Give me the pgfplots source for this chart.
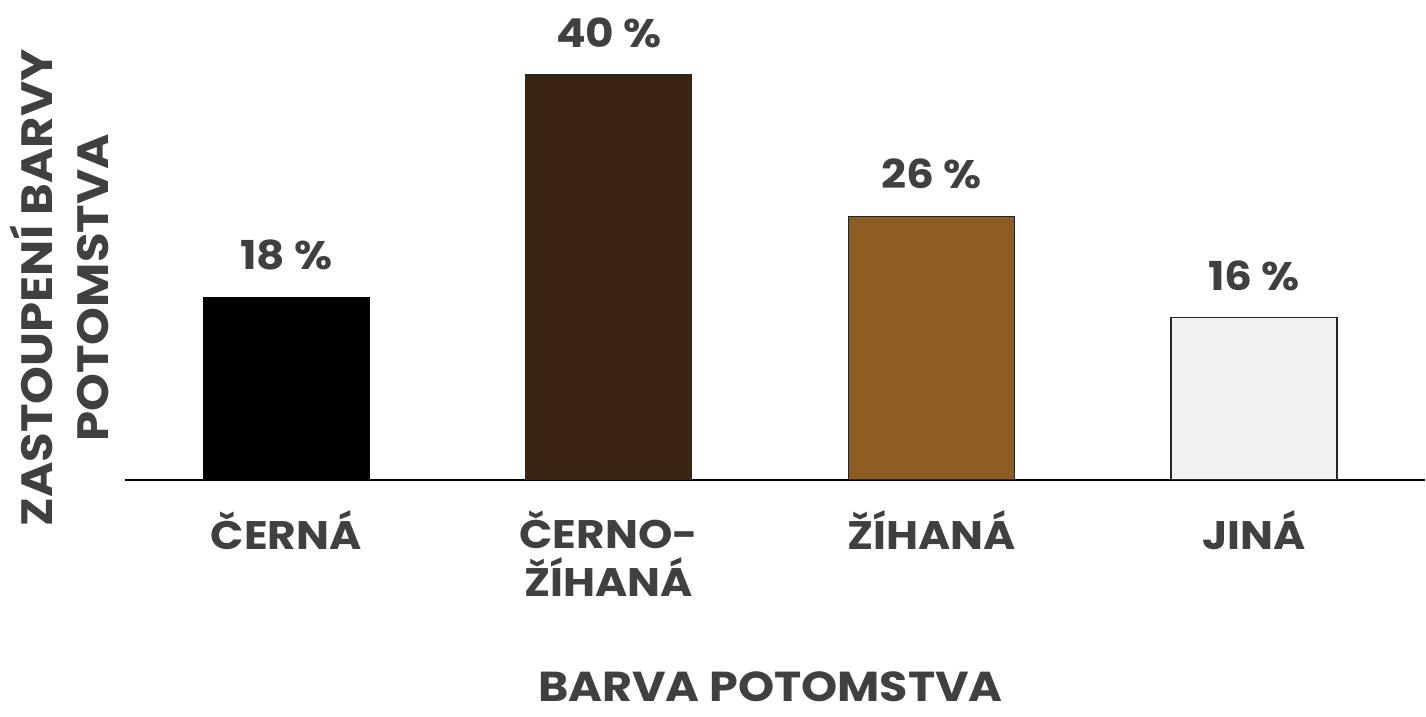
\documentclass[border=0pt]{standalone}
\usepackage{pgfplots}
\pgfplotsset{compat=1.18}
\usepackage{fontspec}
\setmainfont{Poppins}[FakeStretch=1.1]
\definecolor{txt}{HTML}{404040}
\definecolor{cblack}{HTML}{000000}
\definecolor{cdark}{HTML}{3A2510}
\definecolor{cbrown}{HTML}{8E5D22}
\definecolor{cgrey}{HTML}{F1F1F1}
\begin{document}
\begin{tikzpicture}
\begin{axis}[
  scale only axis,
  width=650.5bp, height=240bp,
  xmin=-0.5, xmax=3.53, ymin=0, ymax=47.4,
  axis x line=bottom, axis y line=left,
  x axis line style={-, line width=1bp, black},
  y axis line style={draw=none},
  xtick={0,1,2,3},
  xticklabels={ČERNÁ, ČERNO-\\ŽÍHANÁ, ŽÍHANÁ, JINÁ},
  major tick length=0pt,
  ytick=\empty,
  /pgf/number format/assume math mode=true,
  xticklabel style={anchor=north, yshift=-12bp, align=center, font=\fontsize{20}{24}\selectfont\bfseries, text=txt},
  ybar, bar width=83bp, bar shift=0pt,
  nodes near coords={\pgfmathprintnumber[assume math mode=true]{\pgfplotspointmeta}\ \%},
  nodes near coords style={anchor=south, yshift=10bp, font=\fontsize{20}{23}\selectfont\bfseries, text=txt},
  xlabel={BARVA POTOMSTVA},
  xlabel style={at={(axis description cs:0.4966,-0.432)}, anchor=center, font=\fontsize{21}{24}\selectfont\bfseries, text=txt},
  ylabel={ZASTOUPENÍ BARVY\\POTOMSTVA},
  ylabel style={at={(axis description cs:-0.0505,0.40)}, anchor=center, rotate=0, align=center, font=\fontsize{22}{28}\selectfont\bfseries, text=txt},
  clip=false,
]
\addplot[fill=cblack, draw=black, line width=0.5bp] coordinates {(0,18)};
\addplot[fill=cdark, draw=black!85, line width=0.6bp] coordinates {(1,40)};
\addplot[fill=cbrown, draw=black!85, line width=0.6bp] coordinates {(2,26)};
\addplot[fill=cgrey, draw=black!85, line width=0.6bp] coordinates {(3,16)};
\end{axis}
\path (current axis.south west) ++(-62.5bp,-118.5bp) rectangle ++(713bp,358.5bp);
\end{tikzpicture}
\end{document}
